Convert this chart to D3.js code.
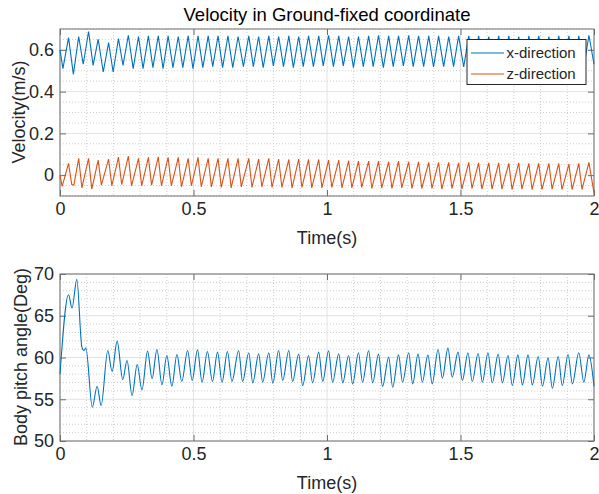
<!DOCTYPE html>
<html>
<head>
<meta charset="utf-8">
<script src="https://cdn.jsdelivr.net/npm/d3@7"></script>
<style>
  body { margin: 0; background: #fff; }
  svg { display: block; font-family: "Liberation Sans", Arial, sans-serif; }
</style>
</head>
<body>
<svg class="chart"></svg>
<script>
// tick labels
var timeTicks = [0, 0.5, 1, 1.5, 2];
var velTicks = [0, 0.2, 0.4, 0.6];
var pitchTicks = [50, 55, 60, 65, 70];
var legendNames = ["x-direction", "z-direction"];

// [time (s), velocity (m/s)] (peaks and troughs)
var xVel = [[0,0.600],[0.011,0.510],[0.032,0.659],[0.050,0.483],[0.070,0.664],[0.087,0.531],[0.107,0.688],[0.124,0.526],
  [0.143,0.651],[0.162,0.494],[0.182,0.635],[0.199,0.494],[0.219,0.654],[0.236,0.526],[0.256,0.670],[0.274,0.510],
  [0.294,0.664],[0.311,0.510],[0.331,0.667],[0.348,0.515],[0.368,0.667],[0.386,0.510],[0.405,0.667],[0.423,0.515],
  [0.443,0.664],[0.460,0.515],[0.480,0.667],[0.498,0.510],[0.517,0.667],[0.535,0.515],[0.555,0.667],[0.572,0.520],
  [0.592,0.667],[0.609,0.515],[0.629,0.667],[0.647,0.515],[0.667,0.664],[0.687,0.520],[0.707,0.667],[0.724,0.520],
  [0.744,0.664],[0.761,0.515],[0.782,0.667],[0.799,0.523],[0.819,0.664],[0.837,0.520],[0.857,0.667],[0.874,0.515],
  [0.894,0.664],[0.911,0.520],[0.931,0.667],[0.949,0.520],[0.969,0.667],[0.986,0.523],[1.006,0.670],[1.024,0.520],
  [1.044,0.667],[1.061,0.523],[1.081,0.664],[1.099,0.515],[1.118,0.664],[1.136,0.520],[1.156,0.667],[1.173,0.520],
  [1.193,0.670],[1.211,0.515],[1.231,0.667],[1.248,0.520],[1.268,0.667],[1.286,0.523],[1.306,0.670],[1.323,0.520],
  [1.343,0.667],[1.362,0.520],[1.381,0.667],[1.399,0.518],[1.418,0.667],[1.437,0.520],[1.456,0.664],[1.474,0.520],
  [1.493,0.667],[1.512,0.518],[1.531,0.667],[1.549,0.520],[1.568,0.667],[1.587,0.518],[1.606,0.664],[1.624,0.520],
  [1.643,0.667],[1.662,0.518],[1.681,0.667],[1.699,0.520],[1.718,0.664],[1.737,0.518],[1.756,0.667],[1.774,0.520],
  [1.793,0.667],[1.812,0.518],[1.831,0.664],[1.849,0.520],[1.868,0.667],[1.887,0.518],[1.906,0.667],[1.924,0.520],
  [1.943,0.667],[1.962,0.518],[1.981,0.670],[2.0,0.531]];

var zVel = [[0,0.000],[0.008,-0.054],[0.032,0.056],[0.044,-0.045],[0.052,-0.048],[0.070,0.080],[0.082,-0.061],[0.107,0.080],
  [0.119,-0.067],[0.143,0.072],[0.155,-0.048],[0.182,0.077],[0.194,-0.051],[0.219,0.086],[0.231,-0.045],[0.256,0.091],
  [0.268,-0.051],[0.294,0.080],[0.306,-0.051],[0.331,0.085],[0.343,-0.048],[0.368,0.088],[0.380,-0.051],[0.405,0.085],
  [0.417,-0.051],[0.443,0.085],[0.455,-0.056],[0.480,0.080],[0.492,-0.051],[0.517,0.085],[0.529,-0.056],[0.555,0.080],
  [0.567,-0.056],[0.592,0.080],[0.604,-0.059],[0.629,0.080],[0.641,-0.061],[0.667,0.080],[0.679,-0.056],[0.707,0.080],
  [0.719,-0.059],[0.744,0.077],[0.756,-0.056],[0.782,0.080],[0.794,-0.059],[0.819,0.077],[0.831,-0.059],[0.857,0.075],
  [0.869,-0.061],[0.894,0.077],[0.906,-0.059],[0.931,0.075],[0.943,-0.061],[0.969,0.075],[0.981,-0.061],[1.006,0.072],
  [1.018,-0.059],[1.044,0.072],[1.056,-0.061],[1.081,0.070],[1.093,-0.061],[1.118,0.067],[1.130,-0.059],[1.156,0.067],
  [1.168,-0.064],[1.193,0.067],[1.205,-0.061],[1.231,0.064],[1.243,-0.064],[1.268,0.067],[1.280,-0.061],[1.306,0.064],
  [1.318,-0.064],[1.343,0.064],[1.355,-0.064],[1.381,0.061],[1.393,-0.064],[1.418,0.061],[1.430,-0.067],[1.456,0.061],
  [1.468,-0.064],[1.493,0.059],[1.505,-0.067],[1.531,0.061],[1.543,-0.064],[1.568,0.059],[1.580,-0.067],[1.606,0.059],
  [1.618,-0.067],[1.643,0.059],[1.655,-0.067],[1.681,0.056],[1.693,-0.069],[1.718,0.059],[1.730,-0.067],[1.756,0.056],
  [1.768,-0.069],[1.793,0.056],[1.805,-0.069],[1.831,0.056],[1.843,-0.067],[1.868,0.056],[1.880,-0.069],[1.906,0.053],
  [1.918,-0.069],[1.943,0.056],[1.955,-0.069],[1.981,0.061],[2.0,-0.086]];

// [time (s), pitch (deg)]
var pitch = [[0,58.0],[0.032,67.52],[0.045,65.92],[0.063,69.36],[0.082,61.24],[0.090,60.84],[0.097,61.12],[0.121,54.04],
  [0.139,56.56],[0.154,54.24],[0.179,60.84],[0.195,58.32],[0.214,61.96],[0.235,57.36],[0.251,59.64],[0.270,55.44],
  [0.289,59.16],[0.307,56.12],[0.328,60.76],[0.345,57.44],[0.363,60.96],[0.382,56.72],[0.400,60.24],[0.419,56.56],
  [0.438,60.36],[0.456,57.12],[0.478,60.84],[0.495,57.24],[0.515,60.92],[0.532,57.04],[0.552,60.72],[0.571,57.12],
  [0.590,60.64],[0.607,57.04],[0.627,60.72],[0.644,57.12],[0.669,60.80],[0.684,57.12],[0.707,60.56],[0.722,56.96],
  [0.744,60.44],[0.759,57.04],[0.782,60.56],[0.797,56.92],[0.819,60.84],[0.834,57.24],[0.857,60.84],[0.871,57.12],
  [0.894,60.40],[0.909,56.64],[0.931,60.24],[0.946,56.96],[0.969,60.64],[0.984,57.12],[1.006,60.80],[1.021,57.04],
  [1.044,60.44],[1.059,56.96],[1.081,60.24],[1.096,56.84],[1.118,60.56],[1.133,57.04],[1.156,60.80],[1.171,56.96],
  [1.193,60.40],[1.208,56.52],[1.231,60.04],[1.246,56.44],[1.268,60.32],[1.283,57.04],[1.306,60.56],[1.321,56.84],
  [1.341,60.44],[1.357,57.04],[1.378,60.32],[1.394,56.84],[1.416,60.96],[1.432,57.52],[1.453,61.12],[1.469,57.64],
  [1.491,60.64],[1.507,57.24],[1.528,60.56],[1.544,57.12],[1.566,60.48],[1.582,57.04],[1.603,60.56],[1.619,56.96],
  [1.641,60.40],[1.657,56.96],[1.678,60.24],[1.694,56.64],[1.715,60.32],[1.732,56.72],[1.753,60.32],[1.769,56.72],
  [1.791,60.12],[1.807,56.56],[1.828,59.96],[1.844,56.32],[1.866,60.12],[1.881,56.64],[1.903,60.36],[1.919,56.84],
  [1.943,60.56],[1.962,57.04],[1.981,60.32],[2.0,56.56]];

function show() {

    'use strict';
    var W = 599, H = 494;
    var left = 60, right = 594;
    var blue = "#0072BD", orange = "#D95319", ink = "#262626";

    var svg = d3.select(".chart")
        .attr("width", W)
        .attr("height", H);

    var x = d3.scaleLinear().domain([0, 2]).range([left, right]);

    function panel(top, bottom, yDomain, yTicks, yFmt) {
        var y = d3.scaleLinear().domain(yDomain).range([bottom, top]);
        var g = svg.append("g");

        // minor grid (dotted)
        var xMinor = x.ticks(20).filter(function (d) { return timeTicks.indexOf(d) < 0; });
        var yMinor = y.ticks(y === null ? 0 : (yDomain[1] - yDomain[0] > 1 ? 20 : 16))
            .filter(function (d) { return !yTicks.some(function (t) { return Math.abs(t - d) < 1e-9; }); });
        g.selectAll(".vmin").data(xMinor).enter().append("line")
            .attr("x1", x).attr("x2", x).attr("y1", top).attr("y2", bottom)
            .attr("stroke", "#cfcfcf").attr("stroke-dasharray", "1,2");
        g.selectAll(".hmin").data(yMinor).enter().append("line")
            .attr("x1", left).attr("x2", right).attr("y1", y).attr("y2", y)
            .attr("stroke", "#cfcfcf").attr("stroke-dasharray", "1,2");

        // major grid
        g.selectAll(".vmaj").data(timeTicks).enter().append("line")
            .attr("x1", x).attr("x2", x).attr("y1", top).attr("y2", bottom)
            .attr("stroke", "#e2e2e2");
        g.selectAll(".hmaj").data(yTicks).enter().append("line")
            .attr("x1", left).attr("x2", right).attr("y1", y).attr("y2", y)
            .attr("stroke", "#e2e2e2");

        // axes with inward ticks, mirrored on the box
        var ax = [
            {a: d3.axisBottom(x).tickValues(timeTicks).tickFormat(d3.format("~g")), t: "translate(0," + bottom + ")", lab: true},
            {a: d3.axisTop(x).tickValues(timeTicks).tickFormat(""), t: "translate(0," + top + ")", lab: false},
            {a: d3.axisLeft(y).tickValues(yTicks).tickFormat(yFmt), t: "translate(" + left + ",0)", lab: true},
            {a: d3.axisRight(y).tickValues(yTicks).tickFormat(""), t: "translate(" + right + ",0)", lab: false}
        ];
        ax.forEach(function (o) {
            var s = g.append("g").attr("transform", o.t)
                .call(o.a.tickSizeInner(-6).tickSizeOuter(0).tickPadding(6));
            s.select(".domain").remove();
            s.selectAll("line").attr("stroke", "#6e6e6e");
            s.selectAll("text").attr("fill", ink).style("font-size", "18px")
                .style("font-family", "'Liberation Sans', Arial, sans-serif");
        });

        g.append("rect").attr("x", left).attr("y", top)
            .attr("width", right - left).attr("height", bottom - top)
            .attr("fill", "none").attr("stroke", "#6e6e6e");
        return y;
    }

    // ---- top: velocity ----
    var yv = panel(29, 196, [-0.1, 0.7], velTicks, d3.format("~g"));
    var line = d3.line().x(function (d) { return x(d[0]); }).y(function (d) { return yv(d[1]); });
    svg.append("path").datum(xVel).attr("d", line)
        .attr("fill", "none").attr("stroke", blue).attr("stroke-width", 1.1);
    svg.append("path").datum(zVel).attr("d", line)
        .attr("fill", "none").attr("stroke", orange).attr("stroke-width", 1.1);

    svg.append("text").attr("x", (left + right) / 2).attr("y", 21)
        .attr("text-anchor", "middle").attr("fill", "#000")
        .style("font-size", "18.5px").text("Velocity in Ground-fixed coordinate");
    svg.append("text").attr("x", (left + right) / 2).attr("y", 244)
        .attr("text-anchor", "middle").attr("fill", ink)
        .style("font-size", "18px").text("Time(s)");
    svg.append("text").attr("transform", "translate(25,112) rotate(-90)")
        .attr("text-anchor", "middle").attr("fill", ink)
        .style("font-size", "18px").text("Velocity(m/s)");

    // legend
    var lg = svg.append("g").attr("transform", "translate(467,39.5)");
    lg.append("rect").attr("width", 119).attr("height", 45)
        .attr("fill", "#fff").attr("stroke", ink);
    [blue, orange].forEach(function (c, i) {
        var yy = 13.5 + i * 21;
        lg.append("line").attr("x1", 4).attr("x2", 37).attr("y1", yy).attr("y2", yy)
            .attr("stroke", c).attr("stroke-width", 1.1);
        lg.append("text").attr("x", 39.5).attr("y", yy).attr("dy", "0.35em")
            .attr("fill", ink).style("font-size", "15px").text(legendNames[i]);
    });

    // ---- bottom: pitch ----
    var yp = panel(274, 441, [50, 70], pitchTicks, d3.format("d"));
    var pline = d3.line().curve(d3.curveMonotoneX)
        .x(function (d) { return x(d[0]); }).y(function (d) { return yp(d[1]); });
    svg.append("path").datum(pitch).attr("d", pline)
        .attr("fill", "none").attr("stroke", blue).attr("stroke-width", 1.1);

    svg.append("text").attr("x", (left + right) / 2).attr("y", 489)
        .attr("text-anchor", "middle").attr("fill", ink)
        .style("font-size", "18px").text("Time(s)");
    svg.append("text").attr("transform", "translate(27,357) rotate(-90)")
        .attr("text-anchor", "middle").attr("fill", ink)
        .style("font-size", "18px").text("Body pitch angle(Deg)");
}

show();
</script>
</body>
</html>
